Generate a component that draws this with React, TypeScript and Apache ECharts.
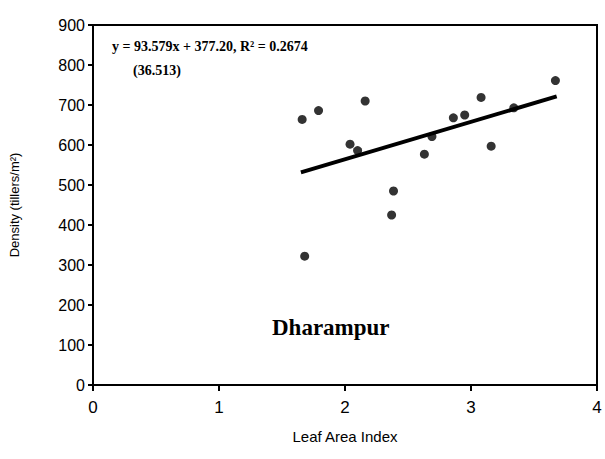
import React, { useEffect, useRef } from "react";
import * as echarts from "echarts";

const laiValues = [1.66, 1.79, 2.16, 2.04, 2.10, 2.63, 2.385, 2.37, 1.68, 2.86, 2.95, 3.08, 3.16, 3.67, 2.69, 3.34];
const densityValues = [664, 686, 710, 602, 586, 577, 485, 425, 322, 668, 675, 719, 597, 761, 621, 693];
const trendSlope = 93.579;
const trendIntercept = 377.2;
const trendXRange = [1.65, 3.68];
const xTicks = [0, 1, 2, 3, 4];
const yTicks = [0, 100, 200, 300, 400, 500, 600, 700, 800, 900];

export default function App() {
  const ref = useRef<HTMLDivElement>(null);
  useEffect(() => {
    if (!ref.current) return;
    const chart = echarts.init(ref.current, null, { renderer: "svg" });
    const points = laiValues.map((x, i) => [x, densityValues[i]]);
    const trend = trendXRange.map((x) => [x, trendSlope * x + trendIntercept]);
    chart.setOption({
      animation: false,
      backgroundColor: "#fff",
      grid: { left: 93, top: 25, right: 8, bottom: 74, show: true, borderColor: "#000", borderWidth: 2, backgroundColor: "transparent" },
      xAxis: {
        type: "value",
        min: 0,
        max: 4,
        interval: 1,
        name: "Leaf Area Index",
        nameLocation: "middle",
        nameGap: 44,
        nameTextStyle: { fontFamily: "Liberation Sans", fontSize: 15, color: "#000" },
        axisLine: { show: true, lineStyle: { color: "#000", width: 2 } },
        axisTick: { show: true, inside: false, length: 6, lineStyle: { color: "#000", width: 2 } },
        axisLabel: { fontFamily: "Liberation Sans", fontSize: 17, color: "#000", margin: 14, formatter: (v: number) => (xTicks.includes(v) ? String(v) : "") },
        splitLine: { show: false },
      },
      yAxis: {
        type: "value",
        min: 0,
        max: 900,
        interval: 100,
        name: "Density (tillers/m²)",
        nameLocation: "middle",
        nameGap: 72,
        nameRotate: 90,
        nameTextStyle: { fontFamily: "Liberation Sans", fontSize: 13, color: "#000" },
        axisLine: { show: true, lineStyle: { color: "#000", width: 2 } },
        axisTick: { show: true, inside: false, length: 5, lineStyle: { color: "#000", width: 2 } },
        axisLabel: { fontFamily: "Liberation Sans", fontSize: 16, color: "#000", margin: 8, formatter: (v: number) => (yTicks.includes(v) ? String(v) : "") },
        splitLine: { show: false },
      },
      graphic: [
        { type: "text", left: 112, top: 39, style: { text: "y = 93.579x + 377.20, R² = 0.2674", font: "bold 14px 'Liberation Serif'", fill: "#000" } },
        { type: "text", left: 133, top: 63, style: { text: "(36.513)", font: "bold 14px 'Liberation Serif'", fill: "#000" } },
        { type: "text", left: 272, top: 316, style: { text: "Dharampur", font: "bold 23px 'Liberation Serif'", fill: "#000" } },
      ],
      series: [
        { type: "scatter", data: points, symbol: "circle", symbolSize: 9, itemStyle: { color: "#000" }, z: 3 },
        { type: "line", data: trend, showSymbol: false, symbol: "none", lineStyle: { color: "#000", width: 4 }, z: 2 },
      ],
    });
    return () => chart.dispose();
  }, []);
  return <div ref={ref} style={{ width: 605, height: 459, position: "absolute", left: 0, top: 0 }} />;
}
